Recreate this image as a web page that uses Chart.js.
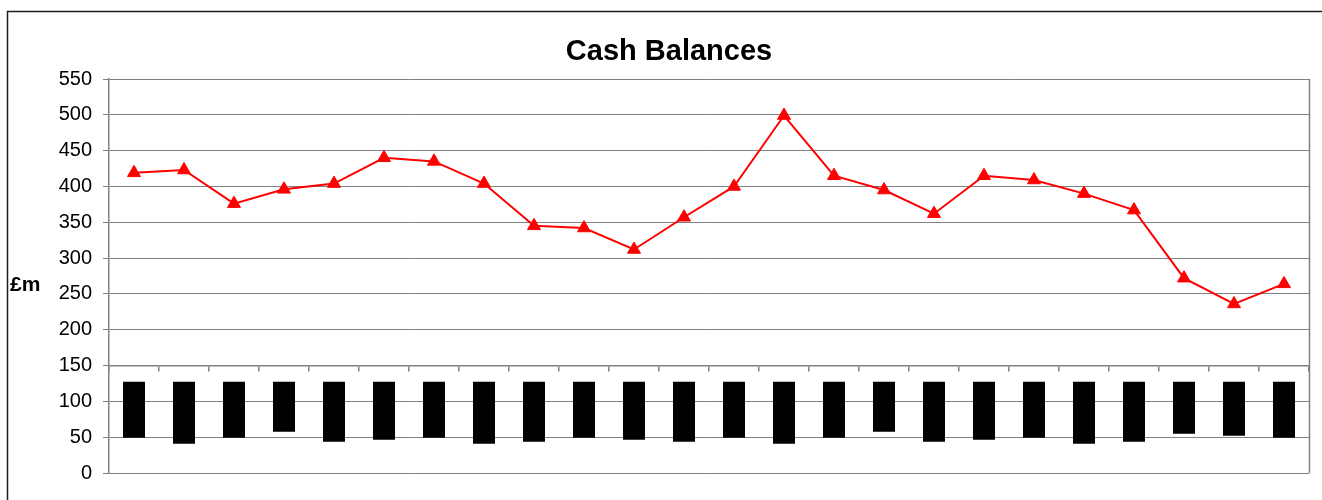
<!DOCTYPE html>
<html>
<head>
<meta charset="utf-8">
<title>Cash Balances</title>
<script src="https://cdn.jsdelivr.net/npm/chart.js@4/dist/chart.umd.min.js"></script>
<style>
    html, body { margin: 0; padding: 0; background: #fff; overflow: hidden; }
    #wrap { width: 1322px; height: 500px; }
</style>
</head>
<body>
<div id="wrap"><canvas id="chart"></canvas></div>
<script>
"use strict";

// Category labels are blacked out in the original, so just number them
const periods = ["1", "2", "3", "4", "5", "6", "7", "8", "9", "10", "11", "12",
                 "13", "14", "15", "16", "17", "18", "19", "20", "21", "22", "23", "24"];

// Cash balance, £m
const cashBalance = [419, 423, 376, 396, 404, 440, 435, 404, 345, 342, 312, 357,
                     400, 499, 415, 395, 362, 415, 409, 390, 367, 272, 236, 264];

// The black (redacted) label boxes: bottom and top of each box in axis units
const boxBottom = [49.3, 41, 49.3, 57.7, 43.7, 46.5, 49.3, 41, 43.7, 49.3, 46.5, 43.7,
                   49.3, 41, 49.3, 57.7, 43.7, 46.5, 49.3, 41, 43.7, 54.9, 52, 49.3];
const boxTop = [127.4, 127.4, 127.4, 127.4, 127.4, 127.4, 127.4, 127.4, 127.4, 127.4, 127.4, 127.4,
                127.4, 127.4, 127.4, 127.4, 127.4, 127.4, 127.4, 127.4, 127.4, 127.4, 127.4, 127.4];

const yTicks = [0, 50, 100, 150, 200, 250, 300, 350, 400, 450, 500, 550];

const gridGrey = "#808080";
const font = "'Liberation Sans', Arial, sans-serif";

// Outer frame, plot frame (right side), title and the "£m" label
const decorations = {
    id: "decorations",
    beforeDraw(chart) {
        const ctx = chart.ctx;
        ctx.save();
        ctx.fillStyle = "#fff";
        ctx.fillRect(0, 0, chart.width, chart.height);
        ctx.strokeStyle = "#1e1e1e";
        ctx.lineWidth = 1.5;
        ctx.strokeRect(7.5, 11.5, 2000, 2000);
        ctx.restore();
    },
    afterDraw(chart) {
        const ctx = chart.ctx;
        const area = chart.chartArea;
        ctx.save();
        ctx.strokeStyle = gridGrey;
        ctx.lineWidth = 1.5;
        ctx.beginPath();
        ctx.moveTo(Math.round(area.right) + 0.5, area.top);
        ctx.lineTo(Math.round(area.right) + 0.5, area.bottom);
        ctx.stroke();

        ctx.fillStyle = "#000";
        ctx.textBaseline = "alphabetic";
        ctx.textAlign = "center";
        ctx.font = "bold 29px " + font;
        ctx.fillText("Cash Balances", 669, 60);

        ctx.textAlign = "left";
        ctx.font = "bold 21px " + font;
        ctx.fillText("£m", 10, 291);
        ctx.restore();
    }
};

const config = {
    type: "bar",
    data: {
        labels: periods,
        datasets: [
            {
                type: "line",
                label: "Cash balance",
                data: cashBalance,
                borderColor: "#ff0000",
                backgroundColor: "#ff0000",
                borderWidth: 2,
                pointStyle: "triangle",
                pointRadius: 7.5,
                pointHoverRadius: 7.5,
                pointBorderWidth: 1,
                tension: 0,
                order: 0
            },
            {
                type: "bar",
                label: "Period",
                data: boxBottom.map((lo, i) => [lo, boxTop[i]]),
                backgroundColor: "#000",
                borderWidth: 0,
                categoryPercentage: 1,
                barPercentage: 0.44,
                order: 1
            }
        ]
    },
    options: {
        responsive: true,
        maintainAspectRatio: false,
        animation: false,
        layout: { padding: { left: 0, right: 13, top: 79, bottom: 27 } },
        plugins: {
            legend: { display: false },
            title: { display: false },
            tooltip: { enabled: false }
        },
        scales: {
            x: {
                type: "category",
                offset: true,
                position: { y: 150 },       // category axis crosses at 150
                grid: {
                    display: true,
                    offset: true,
                    drawOnChartArea: false,
                    drawTicks: true,
                    tickLength: 5,
                    color: gridGrey,
                    lineWidth: 1.5
                },
                border: { display: true, color: gridGrey, width: 1.5 },
                ticks: { display: false }
            },
            y: {
                min: 0,
                max: 550,
                afterBuildTicks: scale => { scale.ticks = yTicks.map(v => ({ value: v })); },
                afterFit: scale => { scale.width = 109; },
                grid: {
                    color: gridGrey,
                    lineWidth: 1,
                    drawTicks: true,
                    tickLength: 6
                },
                border: { display: true, color: gridGrey, width: 1.5 },
                ticks: {
                    color: "#000",
                    padding: 11,
                    font: { family: font, size: 20 }
                }
            }
        }
    },
    plugins: [decorations]
};

new Chart(document.getElementById("chart"), config);
</script>
</body>
</html>
